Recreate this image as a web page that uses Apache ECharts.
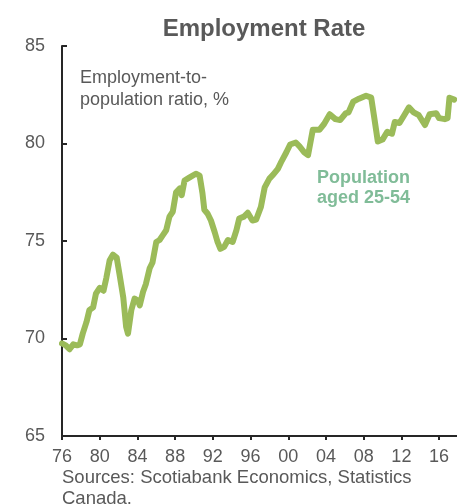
<!DOCTYPE html>
<html>
<head>
<meta charset="utf-8">
<script src="https://cdn.jsdelivr.net/npm/echarts@6/dist/echarts.min.js"></script>
<style>
  html, body { margin: 0; padding: 0; background: #fff; }
  #chart { width: 457px; height: 504px; }
</style>
</head>
<body>
<div id="chart"></div>
<script>
// Employment-to-population ratio, population aged 25-54
const years = [
  1976.0, 1976.4, 1976.8, 1977.2, 1977.6, 1977.9, 1978.2, 1978.6, 1978.9, 1979.3,
  1979.6, 1980.0, 1980.4, 1980.7, 1981.05, 1981.4, 1981.8, 1982.1, 1982.5, 1982.8,
  1983.0, 1983.35, 1983.7, 1984.05, 1984.25, 1984.6, 1984.9, 1985.3, 1985.6, 1986.0,
  1986.35, 1986.7, 1987.05, 1987.4, 1987.75, 1988.1, 1988.5, 1988.7, 1989.0, 1989.5,
  1990.2, 1990.6, 1990.9, 1991.1, 1991.45, 1991.8, 1992.2, 1992.5, 1992.8, 1993.2,
  1993.6, 1994.1, 1994.5, 1994.8, 1995.3, 1995.7, 1996.2, 1996.6, 1997.1, 1997.5,
  1998.0, 1998.4, 1998.9, 1999.3, 1999.8, 2000.2, 2000.8, 2001.2, 2001.7, 2002.1,
  2002.6, 2003.3, 2003.8, 2004.4, 2005.0, 2005.5, 2006.1, 2006.4, 2006.9, 2007.5,
  2008.25, 2008.8, 2009.1, 2009.5, 2010.0, 2010.5, 2011.0, 2011.3, 2011.8, 2012.3,
  2012.8, 2013.3, 2013.85, 2014.5, 2015.0, 2015.7, 2016.0, 2016.6, 2016.9, 2017.1,
  2017.6
];
const rate = [
  69.75, 69.65, 69.45, 69.7, 69.65, 69.7, 70.25, 70.85, 71.45, 71.6,
  72.3, 72.6, 72.45, 73.1, 74.0, 74.3, 74.15, 73.3, 72.1, 70.6,
  70.25, 71.45, 72.05, 71.95, 71.7, 72.4, 72.8, 73.6, 73.9, 74.95,
  75.05, 75.3, 75.55, 76.25, 76.5, 77.5, 77.7, 77.35, 78.1, 78.25,
  78.45, 78.35, 77.45, 76.6, 76.4, 76.05, 75.45, 74.95, 74.6, 74.7,
  75.05, 74.95, 75.55, 76.15, 76.25, 76.45, 76.05, 76.1, 76.75, 77.75,
  78.2, 78.4, 78.7, 79.1, 79.55, 79.95, 80.05, 79.85, 79.55, 79.4,
  80.7, 80.7, 81.0, 81.5, 81.25, 81.2, 81.55, 81.6, 82.15, 82.3,
  82.45, 82.35, 81.4, 80.1, 80.2, 80.6, 80.5, 81.1, 81.05, 81.45,
  81.85, 81.6, 81.45, 80.95, 81.5, 81.55, 81.3, 81.25, 81.3, 82.35,
  82.25
];
const yTicks = [65, 70, 75, 80, 85];

const gray = '#595959';
const axisColor = '#262626';

const option = {
  animation: false,
  title: {
    text: 'Employment Rate',
    left: 259,
    textAlign: 'center',
    top: 12,
    textStyle: {
      fontFamily: 'Liberation Sans, Arial',
      fontSize: 24,
      fontWeight: 'bold',
      color: gray,
    },
  },
  grid: {
    left: 62,
    right: -1,
    top: 46,
    bottom: 68,
  },
  xAxis: {
    type: 'value',
    min: 1976,
    max: 2017.9,
    interval: 4,
    splitLine: { show: false },
    axisLine: { show: true, lineStyle: { color: axisColor, width: 2 } },
    axisTick: { show: true, inside: false, length: 4, lineStyle: { color: axisColor, width: 2 } },
    axisLabel: {
      margin: 12,
      fontFamily: 'Liberation Sans, Arial',
      fontSize: 18,
      color: gray,
      showMaxLabel: false,
      formatter: v => (v % 4 === 0 ? String(v % 100).padStart(2, '0') : ''),
    },
  },
  yAxis: {
    type: 'value',
    min: yTicks[0],
    max: yTicks[yTicks.length - 1],
    interval: 5,
    splitLine: { show: false },
    axisLine: { show: true, lineStyle: { color: axisColor, width: 2 } },
    axisTick: { show: true, inside: true, length: 5, lineStyle: { color: axisColor, width: 2 } },
    axisLabel: {
      margin: 17,
      fontFamily: 'Liberation Sans, Arial',
      fontSize: 18,
      color: gray,
    },
  },
  series: [
    {
      name: 'Population aged 25-54',
      type: 'line',
      showSymbol: false,
      lineStyle: { color: '#9BBB59', width: 6, join: 'round', cap: 'round' },
      data: years.map((y, i) => [y, rate[i]]),
      z: 1,
    },
  ],
  graphic: [
    {
      type: 'text',
      left: 80,
      top: 67,
      style: {
        text: 'Employment-to-\npopulation ratio, %',
        font: '18px "Liberation Sans", Arial',
        lineHeight: 22,
        fill: gray,
      },
    },
    {
      type: 'text',
      left: 317,
      top: 168,
      style: {
        text: 'Population\naged 25-54',
        font: 'bold 18px "Liberation Sans", Arial',
        lineHeight: 20,
        fill: '#80BC98',
      },
    },
    {
      type: 'text',
      left: 62,
      top: 467,
      style: {
        text: 'Sources: Scotiabank Economics, Statistics\nCanada.',
        font: '18.5px "Liberation Sans", Arial',
        lineHeight: 21,
        fill: gray,
      },
    },
  ],
};

echarts.init(document.getElementById('chart')).setOption(option);
</script>
</body>
</html>
